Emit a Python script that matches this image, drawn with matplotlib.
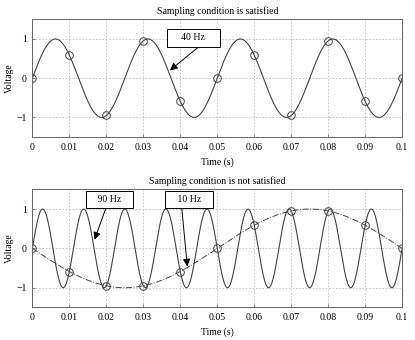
import numpy as np
import matplotlib
matplotlib.use("Agg")
import matplotlib.pyplot as plt

# sample instants (100 Hz sampling)
t_samples = [0, 0.01, 0.02, 0.03, 0.04, 0.05, 0.06, 0.07, 0.08, 0.09, 0.1]
tick_labels = ["0", "0.01", "0.02", "0.03", "0.04", "0.05", "0.06", "0.07", "0.08", "0.09", "0.1"]

top_samples = [0, 0.59, -0.95, 0.95, -0.59, 0, 0.59, -0.95, 0.95, -0.59, 0]
bottom_samples = [0, -0.59, -0.95, -0.95, -0.59, 0, 0.59, 0.95, 0.95, 0.59, 0]

# signal parameters (Hz, amplitude)
f_top = 40
f_fast = 90
f_alias = 10
alias_amp = -1.0

titles = ["Sampling condition is satisfied", "Sampling condition is not satisfied"]

plt.rcParams["font.family"] = ["Liberation Serif", "DejaVu Serif"]
plt.rcParams["font.size"] = 7

fig = plt.figure(figsize=(4.15, 3.4), dpi=100)
ax1 = fig.add_axes([0.078, 0.597, 0.891, 0.346])
ax2 = fig.add_axes([0.078, 0.096, 0.891, 0.347])

t = np.linspace(0, 0.1, 2001)
curve_col = "#444444"

ax1.plot(t, np.sin(2 * np.pi * f_top * t), color=curve_col, lw=0.8)
ax1.plot(t_samples, top_samples, "o", mfc="none", mec=curve_col, ms=5.5, mew=0.7)

ax2.plot(t, np.sin(2 * np.pi * f_fast * t), color=curve_col, lw=0.8)
ax2.plot(t, alias_amp * np.sin(2 * np.pi * f_alias * t), color=curve_col, lw=0.7, ls="-.")
ax2.plot(t_samples, bottom_samples, "o", mfc="none", mec=curve_col, ms=5.5, mew=0.7)

for ax, title in zip([ax1, ax2], titles):
    ax.set_xlim(0, 0.1)
    ax.set_ylim(-1.5, 1.5)
    ax.set_xticks(t_samples)
    ax.set_xticklabels(tick_labels)
    ax.set_yticks([-1, 0, 1])
    ax.set_yticklabels(["\u22121", "0", "1"])
    ax.grid(True, ls=(0, (2, 2)), color="#bbbbbb", lw=0.6)
    ax.tick_params(direction="in", length=2.5, width=0.5, colors="#555555", labelcolor="k", pad=4)
    for s in ax.spines.values():
        s.set_color("#666666")
        s.set_linewidth(0.7)
    ax.set_title(title, fontsize=7, pad=4)
    ax.set_xlabel("Time (s)", labelpad=4)
    ax.set_ylabel("Voltage", labelpad=2)

box = dict(boxstyle="square,pad=0.45", fc="white", ec="k", lw=0.7)
arrow = dict(arrowstyle="-|>", color="k", lw=0.7, mutation_scale=11, shrinkA=0, shrinkB=0)

ax1.annotate("    40 Hz    ", xy=(0.0372, 0.2), xytext=(0.0435, 1.03), ha="center", va="center",
             bbox=box, arrowprops=dict(arrow, relpos=(0.75, 0)))
ax2.annotate("   90 Hz   ", xy=(0.0168, 0.22), xytext=(0.0208, 1.24), ha="center", va="center",
             bbox=box, arrowprops=dict(arrow, relpos=(0.45, 0)))
ax2.annotate("   10 Hz   ", xy=(0.0419, -0.46), xytext=(0.0424, 1.24), ha="center", va="center",
             bbox=box, arrowprops=dict(arrow, relpos=(0.3, 0)))

fig.savefig("out.png", dpi=100)
